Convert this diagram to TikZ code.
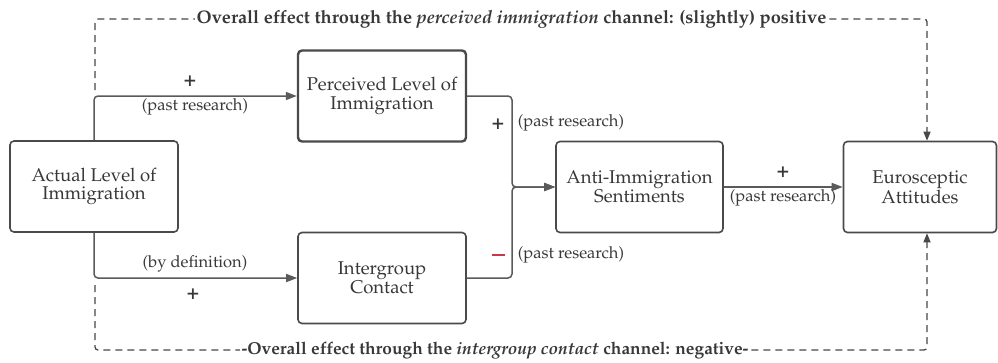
\documentclass[tikz,border=0pt]{standalone}
\usepackage[T1]{fontenc}
\usepackage{mathpazo}
\usetikzlibrary{arrows.meta}
\definecolor{boxc}{HTML}{4A4A4A}
\definecolor{linec}{HTML}{5A5A5A}
\definecolor{dashc}{HTML}{484848}
\definecolor{txt}{HTML}{383838}
\definecolor{minusred}{HTML}{C8384A}
\newcommand{\boxfont}{\fontsize{18.5}{18.5}\selectfont}
\newcommand{\labfont}{\fontsize{16.5}{18}\selectfont}
\newcommand{\ttlfont}{\fontsize{18.2}{18}\selectfont\bfseries}
\newcommand{\btlfont}{\fontsize{17.3}{18}\selectfont\bfseries}
\newcommand{\sgnfont}{\fontsize{21}{21}\selectfont\bfseries}
\begin{document}
\begin{tikzpicture}[x=1pt,y=-1pt,
  box/.style={draw=boxc, line width=1.6pt, rounded corners=4pt, minimum width=168pt,
    minimum height=91pt, inner sep=0pt, align=center, font=\boxfont, text=txt},
  conn/.style={draw=linec, line width=1.5pt, rounded corners=4pt,
    -{Triangle[length=11pt,width=8pt]}},
  dashconn/.style={draw=dashc, line width=1.3pt, rounded corners=3pt, dash pattern=on 7pt off 5pt,
    -{Triangle[length=9pt,width=7pt]}},
  lab/.style={font=\labfont, text=txt, inner sep=1pt},
  sgn/.style={font=\sgnfont, text=txt, inner sep=0pt},
  ttl/.style={text=txt, fill=white, inner xsep=2pt, inner ysep=1pt}
]
\useasboundingbox (0,0) rectangle (998,362);
\fill[white] (0,0) rectangle (998,362);

\node[box] (act) at (94,186.5) {Actual Level of\\Immigration};
\node[box, line width=2.4pt] (per) at (382,96) {Perceived Level of\\Immigration};
\node[box] (int) at (382,278) {Intergroup\\Contact};
\node[box, minimum width=167pt] (anti) at (639.5,187) {Anti-Immigration\\Sentiments};
\node[box, minimum width=153pt] (euro) at (920,187) {Eurosceptic\\Attitudes};

\coordinate (j) at (512,187);

\draw[conn] (act.north) |- (per.west);
\draw[conn] (act.south) |- (int.west);
\draw[conn] (per.east) -| (j) -- (anti.west);
\draw[conn] (int.east) -| (j) -- (anti.west);
\draw[conn] (anti.east) -- (euro.west);

% dashed channels
\coordinate (ts) at (95,90);
\coordinate (tl) at (95,19);
\coordinate (tr) at (927,19);
\coordinate (bs) at (95,285);
\coordinate (bl) at (95,350);
\coordinate (br) at (927,350);
\draw[dashconn] (ts) -- (tl) -- (tr) -- (tr |- euro.north);
\draw[dashconn] (bs) -- (bl) -- (br) -- (br |- euro.south);

\node[ttl, font=\ttlfont] (toplab) at (511.5,19) {Overall effect through the \textit{perceived immigration} channel: (slightly) positive};
\node[ttl, font=\btlfont] (botlab) at (495,351) {-Overall effect through the \textit{intergroup contact} channel: negative-};

% labels
\node[sgn] (p1) at (190,81) {+};
\node[lab] (l1) at (195,107) {(past research)};
\node[lab] (l2) at (195,264) {(by definition)};
\node[sgn] (p2) at (193,294) {+};
\node[sgn] (p3) at (498,124) {+};
\node[lab] (l3) at (571,123) {(past research)};
\node[sgn, text=minusred] (m1) at (498,255) {\rule{13pt}{2.2pt}};
\node[lab] (l4) at (571,255) {(past research)};
\node[sgn] (p4) at (783,172) {+};
\node[lab] (l5) at (783,198) {(past research)};
\end{tikzpicture}
\end{document}
